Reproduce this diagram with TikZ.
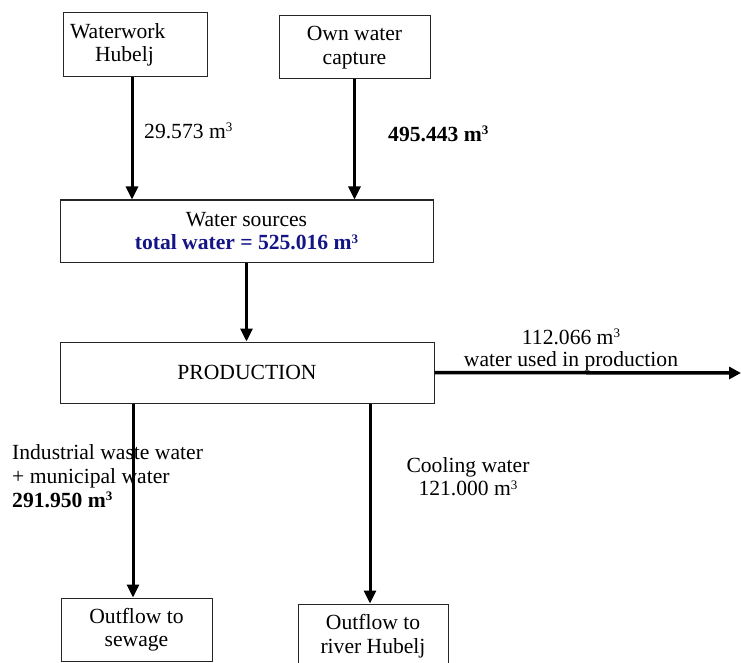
\documentclass[tikz,border=0pt]{standalone}
\usepackage{fontspec}
\setmainfont{Liberation Serif}
\usetikzlibrary{arrows.meta}
\definecolor{navyt}{RGB}{20,20,135}
\newcommand{\cub}{\raisebox{6.5pt}{\fontsize{13}{13}\selectfont 3}}
\begin{document}
\begin{tikzpicture}[x=1pt,y=-1pt,
  every node/.style={font=\fontsize{21.6}{23.5}\selectfont, inner sep=0pt},
  box/.style={draw=black!85, line width=1pt, align=center},
  arr/.style={line width=3pt, -{Triangle[width=12pt,length=13pt]}},
  arrh/.style={line width=3.5pt, -{Triangle[width=12pt,length=12pt]}},
  lbl/.style={align=left}
]
\useasboundingbox (0,0) rectangle (741,663);
% boxes
\node[box, minimum width=144pt, minimum height=64pt, text width=130pt, align=left] (ww) at (135,45)
  {Waterwork\\\hspace*{25pt}Hubelj};
\node[box, minimum width=151pt, minimum height=63pt] (own) at (354.5,47.5) {Own water\\capture};
\node[box, minimum width=373pt, minimum height=62pt] (ws) at (246.5,231)
  {Water sources\\\textcolor{navyt}{\textbf{total water = 525.016 m\cub}}};
\node[box, minimum width=374pt, minimum height=61pt] (prod) at (247,372.5) {PRODUCTION};
\node[box, minimum width=151pt, minimum height=63pt] (sew) at (136.5,629.5) {Outflow to\\sewage};
\node[box, minimum width=150pt, minimum height=64pt] (riv) at (373,636) {Outflow to\\river Hubelj};
\coordinate (out) at (741,373);
% labels
\node[anchor=west] (l1) at (144,131) {29.573 m\cub};
\node[anchor=west] (l2) at (388,134) {\textbf{495.443 m\cub}};
\node[align=center, font=\fontsize{21.6}{22}\selectfont] (l3) at (571,350) {112.066 m\cub\\water used in production};
\node[anchor=west, lbl, font=\fontsize{21.6}{24}\selectfont] (l4) at (12,476)
  {Industrial waste water\\+ municipal water\\\textbf{291.950 m\cub}};
\node[align=center, font=\fontsize{21.6}{23}\selectfont] (l5) at (468,477) {Cooling water\\121.000 m\cub};
% connectors
\draw[arr] (ww.south -| 132,0) -- (ws.north -| 132,0);
\draw[arr] (own.south) -- (own.south |- ws.north);
\draw[arr] (ws.south) -- (ws.south |- prod.north);
\draw[arrh] (prod.east) -- (out);
\draw[arr] (prod.south -| 133,0) -- (sew.north -| 133,0);
\draw[arr] (prod.south -| 370,0) -- (riv.north -| 370,0);
\end{tikzpicture}
\end{document}
